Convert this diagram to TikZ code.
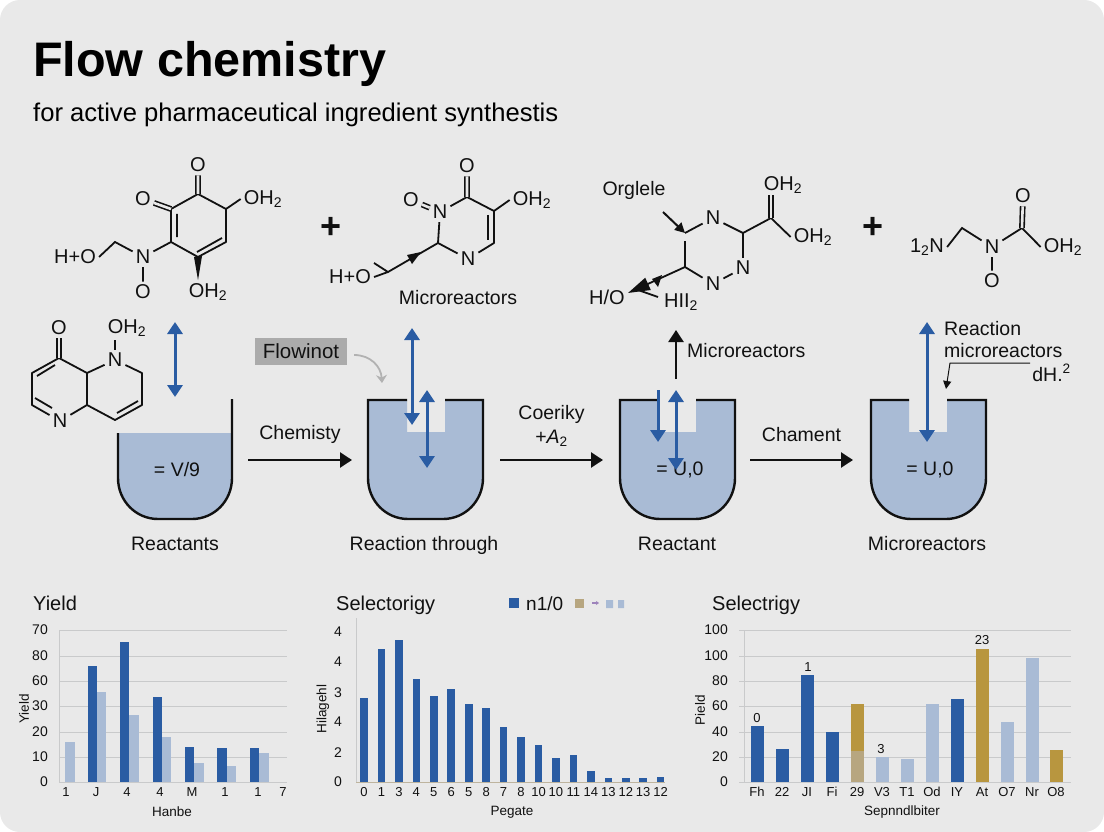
\documentclass[tikz,border=0pt]{standalone}
\usepackage{fontspec}
\usepackage{amsmath}
\usepackage{tikz}
\usetikzlibrary{arrows.meta,calc}
\setmainfont{Liberation Sans}
\definecolor{panelgray}{HTML}{E9E9E9}
\definecolor{flowblue}{HTML}{2A5CA3}
\definecolor{liquidblue}{HTML}{A9BBD5}
\definecolor{goldbar}{HTML}{B8963F}
\definecolor{tanbar}{HTML}{B7A680}
\definecolor{gridgray}{HTML}{C9CACB}
\definecolor{inkblack}{HTML}{111111}
\tikzset{
	atom/.style={font=\fontsize{20}{24}\selectfont,inner sep=3pt,text=inkblack},
	bond/.style={line width=1.8pt,inkblack},
	dbond/.style={line width=1.6pt,inkblack,double=panelgray,double distance=2.6pt},
	caption/.style={font=\fontsize{19.5}{23}\selectfont,inner sep=1pt,text=inkblack},
	plusmark/.style={font=\fontsize{36}{38}\selectfont\bfseries,inner sep=0pt,text=inkblack},
	bluearrow/.style={line width=3pt,flowblue,{Triangle[length=12pt,width=15pt]}-{Triangle[length=12pt,width=15pt]}},
	blackarrow/.style={line width=2.4pt,inkblack,-{Triangle[length=12pt,width=15pt]}},
	thinarrow/.style={line width=2pt,inkblack,-{Triangle[length=10pt,width=10pt]}},
	vessel/.style={line width=2.4pt,inkblack},
	gridln/.style={line width=1pt,gridgray},
	ticklab/.style={font=\fontsize{13}{15}\selectfont,inner sep=1pt,text=inkblack},
	namelab/.style={font=\fontsize{13.5}{15}\selectfont,inner sep=1pt,text=inkblack},
	ylab/.style={ticklab,anchor=east,font=\fontsize{14}{16}\selectfont},
	charttitle/.style={font=\fontsize{20}{24}\selectfont,inner sep=0pt,anchor=base west,text=inkblack}
}
\begin{document}
\begin{tikzpicture}[x=1pt,y=-1pt]
	\useasboundingbox (0,0) rectangle (1104,832);
	\fill[white] (0,0) rectangle (1104,832);
	\fill[panelgray,rounded corners=20pt] (0,0) rectangle (1104,832);
	\node[inner sep=0pt,anchor=west,font=\fontsize{48.5}{52}\selectfont\bfseries] (maintitle) at (33,64) {Flow chemistry};
	\node[inner sep=0pt,anchor=west,font=\fontsize{25.6}{28}\selectfont] (subtitle) at (33,115) {for active pharmaceutical ingredient synthestis};

	% first molecule
	\foreach \n/\x/\y in {a1/198/194,a2/226/209,a3/226/242,a4/198/257,a5/171/242,a6/171/209,a7/115/242}{\coordinate (\n) at (\x,\y);}
	\node[atom] (aO1) at (198,165) {O};
	\node[atom] (aO2) at (143,199) {O};
	\node[atom] (aOH1) at (263,199) {OH\textsubscript{2}};
	\node[atom] (aN) at (143,257) {N};
	\node[atom] (aO3) at (143,292) {O};
	\node[atom] (aOH2) at (208,292) {OH\textsubscript{2}};
	\node[atom] (aHO) at (75,257) {H+O};
	\draw[bond,line join=round] (a2)--(a3)--(a4)--(a5)--(a6)--(a1)--(a2);
	\draw[bond] (a2)--(aOH1.west) (a5)--(aN) (aN)--(a7)--(aHO.east) (aN)--(aO3);
	\draw[bond] (177,214)--(177,237) (197,252)--(222,238);
	\draw[dbond] (a1)--(aO1) (a6)--(aO2);
	\fill[inkblack] (194,257)--(202,256)--(198,280)--cycle;

	% second molecule
	\foreach \n/\x/\y in {b1/59/358,b2/87/373,b3/87/405,b4/32/405,b5/32/373,b6/142/373,b7/142/405,b8/115/420}{\coordinate (\n) at (\x,\y);}
	\node[atom] (bO) at (59,328) {O};
	\node[atom] (bOH) at (127,328) {OH\textsubscript{2}};
	\node[atom] (bNa) at (115,360) {N};
	\node[atom] (bNb) at (60,421) {N};
	\draw[bond,line join=round] (b1)--(b2)--(b3)--(bNb)--(b4)--(b5)--(b1);
	\draw[bond,line join=round] (b2)--(bNa)--(b6)--(b7)--(b8)--(b3);
	\draw[bond] (bNa)--(bOH.south -| bNa);
	\draw[bond] (55,365)--(37,376) (35,398)--(52,408) (117,413)--(138,401);
	\draw[dbond] (b1)--(bO);

	% plus signs
	\node[plusmark] (plusa) at (331,228) {+};
	\node[plusmark] (plusb) at (873,228) {+};

	% third molecule
	\foreach \n/\x/\y in {c1/467/197,c2/494/211,c3/494/243,c4/438/243,c5/388/272}{\coordinate (\n) at (\x,\y);}
	\node[atom] (cO1) at (467,166) {O};
	\node[atom] (cO2) at (411,200) {O};
	\node[atom] (cOH) at (532,200) {OH\textsubscript{2}};
	\node[atom] (cNa) at (440,212) {N};
	\node[atom] (cNb) at (468,259) {N};
	\node[atom] (cHO) at (350,277) {H+O};
	\node[caption,anchor=base] (micro1) at (458,304) {Microreactors};
	\draw[bond,line join=round] (cNa)--(c1)--(c2)--(c3)--(cNb)--(c4)--(cNa);
	\draw[bond] (c2)--(cOH.west) (c4)--(c5)--(374,263) (c5)--(cHO.east);
	\draw[bond] (488,215)--(488,240);
	\draw[dbond] (c1)--(cO1) (cNa)--(cO2);
	\fill[inkblack] (407,255)--(421,252)--(412,264)--cycle;

	% fourth molecule
	\foreach \n/\x/\y in {d1/685/233,d3/743/233,d4/685/267,d5/771/218,d6/628/293,d7/658/297}{\coordinate (\n) at (\x,\y);}
	\coordinate (dlead) at (663,212);
	\node[atom] (dNa) at (713,218) {N};
	\node[atom] (dNb) at (743,268) {N};
	\node[atom] (dNc) at (713,284) {N};
	\node[atom] (dOH1) at (783,185) {OH\textsubscript{2}};
	\node[atom] (dOH2) at (813,237) {OH\textsubscript{2}};
	\node[atom] (dHO) at (607,297) {H/O};
	\node[atom] (dHI) at (681,302) {HII\textsubscript{2}};
	\node[caption] (orgl) at (634,190) {Orglele};
	\draw[bond] (d1)--(dNa) (dNa)--(d3)--(dNb)--(dNc)--(d4)--(685,241);
	\draw[bond] (d3)--(d5)--(dOH2.west);
	\draw[dbond] (d5)--(771,195);
	\draw[thinarrow] (dlead)--(d1);
	\draw[line width=1.8pt,inkblack,-{Triangle[length=22pt,width=13pt]}] (d4)--(d6);
	\draw[bond] (638,290)--(d7);
	\fill[inkblack] (652,279)--(662,275)--(658,287)--cycle;

	% fifth molecule
	\foreach \n/\x/\y in {e1/962/228,e2/1022/228}{\coordinate (\n) at (\x,\y);}
	\node[atom] (eNH) at (927,247) {1\textsubscript{2}N};
	\node[atom] (eN) at (992,247) {N};
	\node[atom] (eO1) at (992,281) {O};
	\node[atom] (eO2) at (1023,196) {O};
	\node[atom] (eOH) at (1063,247) {OH\textsubscript{2}};
	\draw[bond] (eNH.east)--(e1)--(eN)--(e2)--(eOH.west) (eN)--(eO1);
	\draw[dbond] (e2)--(eO2);

	% reactors
	\fill[liquidblue] (118,433)--(232,433)--(232,478) .. controls (232,501) and (214,519) .. (192,519)--(158,519) .. controls (136,519) and (118,501) .. (118,478)--cycle;
	\draw[vessel] (118,433)--(118,478) .. controls (118,501) and (136,519) .. (158,519)--(192,519) .. controls (214,519) and (232,501) .. (232,478)--(232,399);
	\foreach \x/\nl/\nr in {368/407/445,620/657/696,871/909/947}{
		\fill[liquidblue] (\x,400)--(\nl,400)--(\nl,432)--(\nr,432)--(\nr,400)--(\x+115,400)--(\x+115,478) .. controls (\x+115,501) and (\x+97,519) .. (\x+75,519)--(\x+40,519) .. controls (\x+18,519) and (\x,501) .. (\x,478)--cycle;
		\draw[vessel] (\nl,400)--(\x,400)--(\x,478) .. controls (\x,501) and (\x+18,519) .. (\x+40,519)--(\x+75,519) .. controls (\x+97,519) and (\x+115,501) .. (\x+115,478)--(\x+115,400)--(\nr,400);
	}
	\node[caption] (val1) at (177,470) {= V/9};
	\node[caption] (val3) at (680,470) {= U,0};
	\node[caption] (val4) at (930,470) {= U,0};
	\node[caption,anchor=base] (cap1) at (175,550) {Reactants};
	\node[caption,anchor=base] (cap2) at (424,550) {Reaction through};
	\node[caption,anchor=base] (cap3) at (677,550) {Reactant};
	\node[caption,anchor=base] (cap4) at (927,550) {Microreactors};

	% blue arrows
	\foreach \n/\x/\a/\b in {p/175/322/397,q/412/328/425,r/427/390/468,s/676/390/470,t/927/322/442}{
		\coordinate (\n top) at (\x,\a);
		\coordinate (\n bot) at (\x,\b);
		\draw[bluearrow] (\n top)--(\n bot);
	}
	\coordinate (utop) at (658,390);
	\coordinate (ubot) at (658,442);
	\draw[line width=3pt,flowblue,-{Triangle[length=12pt,width=15pt]}] (utop)--(ubot);

	% flow arrows
	\foreach \n/\a/\b in {f/248/352,g/500/603,h/750/853}{
		\coordinate (\n start) at (\a,460);
		\coordinate (\n end) at (\b,460);
	}
	\draw[blackarrow] (fstart)--(fend) node[midway,above=14pt,caption] (chem) {Chemisty};
	\draw[blackarrow] (gstart)--(gend) node[midway,above=11pt,caption,align=center] (coer) {Coeriky\\[1pt]+\textit{A}\textsubscript{2}};
	\draw[blackarrow] (hstart)--(hend) node[midway,above=16pt,caption] (cham) {Chament};
	\coordinate (upstart) at (676,379);
	\coordinate (upend) at (676,330);
	\draw[blackarrow] (upstart)--(upend);
	\node[caption,anchor=west] (micro2) at (686,351) {Microreactors};

	% tag and notes
	\node[fill=black!33,minimum width=92pt,minimum height=27pt,inner sep=0pt,caption,font=\fontsize{20.5}{24}\selectfont] (flowtag) at (301,351) {Flowinot};
	\coordinate (tagend) at (382,383);
	\draw[line width=1.8pt,black!30,-{Stealth[length=8pt,width=11pt]}] ([shift={(7,4)}]flowtag.east) .. controls (370,355) and (381,366) .. (tagend);
	\node[caption,anchor=west] (notea) at (943,329) {Reaction};
	\node[caption,anchor=west] (noteb) at (943,351) {microreactors};
	\node[caption,anchor=east] (notec) at (1072,373) {dH.\textsuperscript{2}};
	\coordinate (notestart) at (1030,363);
	\coordinate (notebend) at (950,363);
	\coordinate (noteend) at (946,389);
	\draw[line width=1pt,inkblack,-{Triangle[length=8pt,width=8pt]}] (notestart)--(notebend)--(noteend);

	% yield chart
	\node[charttitle] (titleA) at (33,610) {Yield};
	\foreach \y in {630,656,681,706,732,757,782}{\draw[gridln] (59,\y)--(287,\y);}
	\draw[gridln] (59,630)--(59,782);
	\foreach \y/\t in {630/70,656/80,681/60,706/30,732/20,757/10,782/0}{\node[ylab] (ytickA\t) at (49,\y) {\t};}
	\foreach \a/\b/\t in {88/97/666,120/129/642,153/162/697,185/194/747,217/227/748,250/259/748}{\fill[flowblue] (\a,\t) rectangle (\b,782);}
	\foreach \a/\b/\t in {65/75/742,97/106/692,129/139/715,162/171/737,194/204/763,227/236/766,259/269/753}{\fill[liquidblue] (\a,\t) rectangle (\b,782);}
	\foreach \i/\x/\t in {1/66/1,2/96/J,3/127/4,4/160/4,5/192/M,6/225/1,7/258/1,8/283/7}{\node[ticklab] (xtickA\i) at (\x,792) {\t};}
	\node[namelab] (xnameA) at (172,812) {Hanbe};
	\node[namelab,rotate=90] (ynameA) at (24,709) {Yield};

	% selectivity chart
	\node[charttitle] (titleB) at (336,610) {Selectorigy};
	\fill[flowblue] (509,598) rectangle (519,608);
	\node[charttitle,font=\fontsize{19}{22}\selectfont] (legendB) at (526,610) {n1/0};
	\fill[tanbar] (575,599) rectangle (584,608);
	\coordinate (dashA) at (592,603);
	\coordinate (dashB) at (599,603);
	\draw[line width=1.2pt,liquidblue!70!violet,-{Stealth[length=3pt,width=4pt]}] (dashA)--(dashB);
	\fill[liquidblue] (606,600) rectangle (613,608) (618,600) rectangle (624,608);
	\draw[gridln] (356,618)--(356,782);
	\draw[gridln,tanbar!60!gridgray] (356,782)--(665,782);
	\foreach \i/\y/\t in {1/632/4,2/662/4,3/693/3,4/722/4,5/753/2,6/782/0}{\node[ylab] (ytickB\i) at (343,\y) {\t};}
	\foreach \i/\t/\l in {0/698.3/0,1/649/1,2/640.3/3,3/678.7/4,4/695.7/5,5/689/6,6/703.7/5,7/708/8,8/726.7/7,9/737.3/8,10/745.3/10,11/758.3/10,12/755.3/11,13/770.7/14,14/778.3/13,15/778.3/12,16/778/13,17/776.7/12}{
		\fill[flowblue] (360.2+\i*17.45,\t) rectangle (367.8+\i*17.45,782);
		\node[ticklab] (xtickB\i) at (364+\i*17.45,792) {\l};
	}
	\node[namelab] (xnameB) at (512,812) {Pegate};
	\node[namelab,rotate=90] (ynameB) at (323,709) {Hilagehl};

	% third chart
	\node[charttitle] (titleC) at (712,610) {Selectrigy};
	\foreach \y in {630,656,681,706,732,757,782}{\draw[gridln] (739,\y)--(1071,\y);}
	\draw[gridln] (744,630)--(744,782);
	\foreach \i/\y/\t in {1/630/100,2/656/100,3/681/80,4/706/60,5/732/40,6/757/20,7/782/0}{\node[ylab] (ytickC\i) at (729,\y) {\t};}
	\foreach \i/\x/\t/\c/\l in {1/757/726/flowblue/Fh,2/782/749/flowblue/22,3/807/675/flowblue/JI,4/832/732/flowblue/Fi,5/857/704/goldbar/29,6/882/757/liquidblue/V3,7/907/759/liquidblue/T1,8/932/704/liquidblue/Od,9/957/699/flowblue/IY,10/982/649/goldbar/At,11/1007/722/liquidblue/O7,12/1032/658/liquidblue/Nr,13/1056/750/goldbar/O8}{
		\fill[\c] (\x-6.5,\t) rectangle (\x+6.5,782);
		\node[ticklab] (xtickC\i) at (\x,792) {\l};
	}
	\fill[tanbar] (850.5,751) rectangle (863.5,782);
	\node[ticklab] (valC1) at (757,718) {0};
	\node[ticklab] (valC2) at (808,667) {1};
	\node[ticklab] (valC3) at (881,749) {3};
	\node[ticklab] (valC4) at (982,640) {23};
	\node[namelab] (xnameC) at (902,812) {Sepnndlbiter};
	\node[namelab,rotate=90] (ynameC) at (700,710) {Pield};
\end{tikzpicture}
\end{document}
